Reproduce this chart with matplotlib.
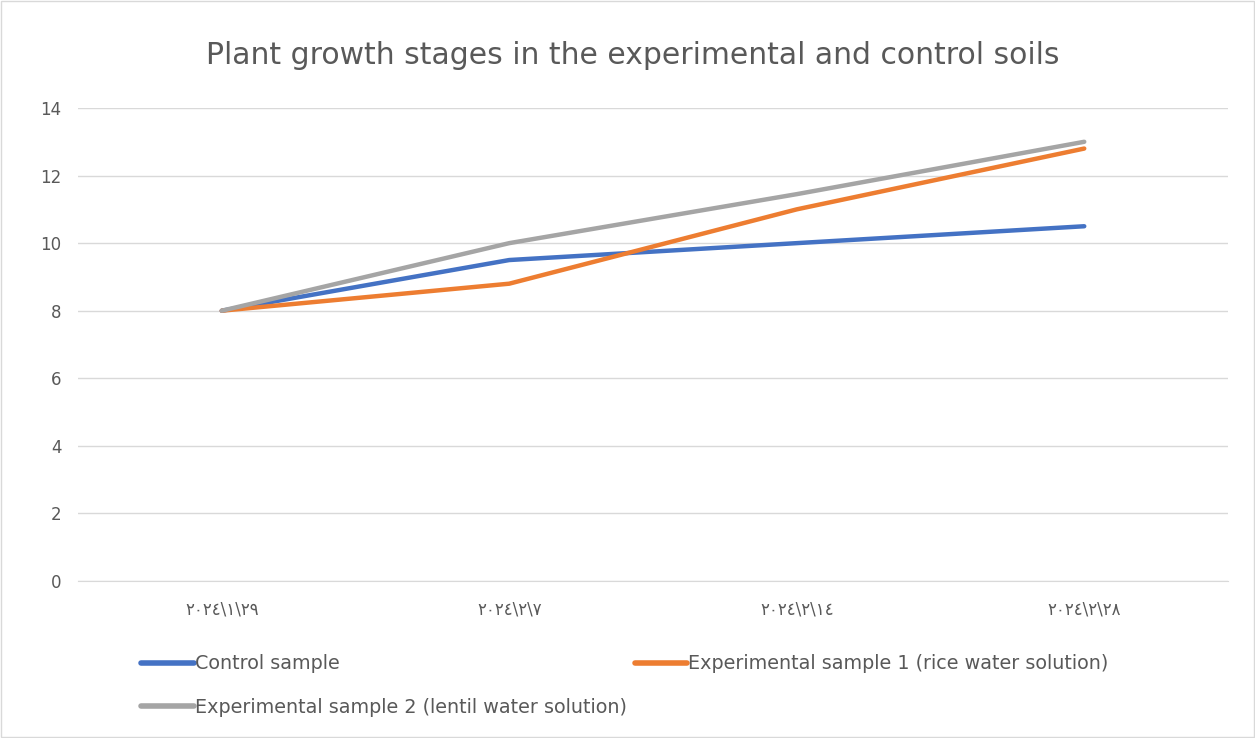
import matplotlib.pyplot as plt
from matplotlib.patches import Rectangle

# data
dates = ['٢٠٢٤\\١\\٢٩', '٢٠٢٤\\٢\\٧', '٢٠٢٤\\٢\\١٤', '٢٠٢٤\\٢\\٢٨']
control = [8, 9.5, 10.0, 10.5]
rice = [8, 8.8, 11.0, 12.8]
lentil = [8, 10.0, 11.45, 13.0]

plt.rcParams['font.family'] = ['DejaVu Sans']

fig = plt.figure(figsize=(12.55, 7.38), dpi=100)
ax = fig.add_axes([78 / 1255, 1 - 581 / 738, (1228 - 78) / 1255, (581 - 108) / 738])

x = range(len(dates))
l1, = ax.plot(x, control, color='#4472C4', lw=3.2, solid_capstyle='round', label='Control sample')
l2, = ax.plot(x, rice, color='#ED7D31', lw=3.2, solid_capstyle='round',
              label='Experimental sample 1 (rice water solution)')
l3, = ax.plot(x, lentil, color='#A5A5A5', lw=3.2, solid_capstyle='round',
              label='Experimental sample 2 (lentil water solution)')

ax.set_xlim(-0.5, len(dates) - 0.5)
ax.set_ylim(0, 14)
ax.set_yticks(range(0, 15, 2))
ax.set_xticks(list(x))
ax.set_xticklabels(dates)
ax.grid(axis='y', color='#D9D9D9', lw=1)
ax.set_axisbelow(True)
for s in ['top', 'right', 'left']:
    ax.spines[s].set_visible(False)
ax.spines['bottom'].set_color('#D9D9D9')
ax.tick_params(length=0, labelsize=12, colors='#595959')
ax.tick_params(axis='y', pad=12)
ax.tick_params(axis='x', pad=14)

fig.text(0.504, 1 - 55 / 738, 'Plant growth stages in the experimental and control soils',
         ha='center', va='center', fontsize=21.5, color='#595959')

# row-major order like the original: control, rice / lentil
handles = [l1, l3, l2]
leg = fig.legend(handles, [h.get_label() for h in handles], loc='upper left',
                 bbox_to_anchor=(124 / 1255, 1 - 637 / 738), ncol=2,
                 frameon=False, fontsize=13.8, handlelength=2.75, handletextpad=0.05,
                 columnspacing=0.4, labelspacing=1.3, labelcolor='#595959')
for h in leg.get_lines():
    h.set_linewidth(4)

fig.patches.append(Rectangle((0.001, 0.001), 0.998, 0.998, transform=fig.transFigure,
                             fill=False, edgecolor='#D9D9D9', lw=1))

fig.savefig('out.png', dpi=100)
